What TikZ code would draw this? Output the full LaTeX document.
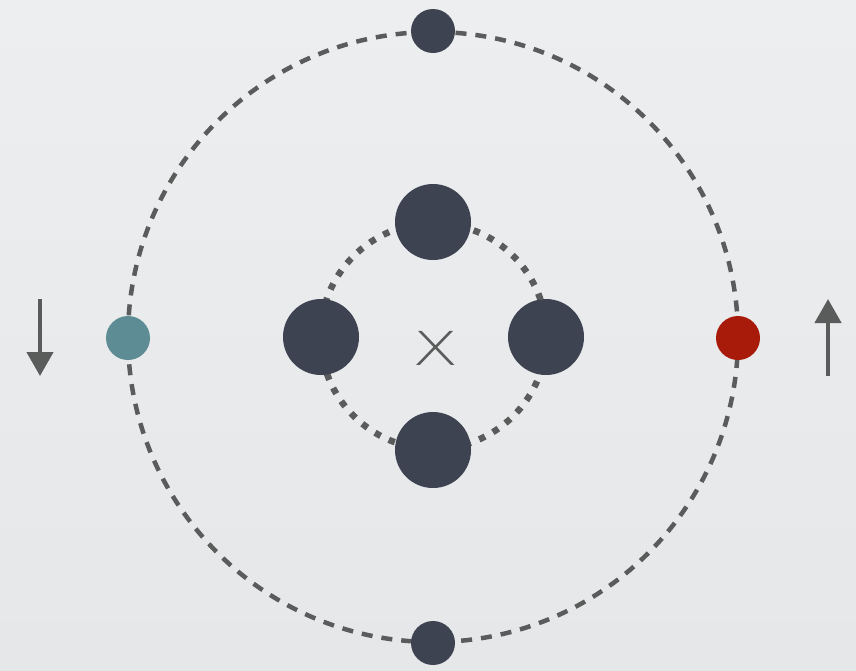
\documentclass[tikz,border=0pt]{standalone}
\usepackage{fontspec}
\newfontfamily\xfont{DejaVu Sans ExtraLight}
\usetikzlibrary{arrows.meta}
\definecolor{bgtop}{HTML}{ECEEF0}
\definecolor{bgbot}{HTML}{E5E7E9}
\definecolor{nodedark}{HTML}{3D4350}
\definecolor{linegrey}{HTML}{5A5C5C}
\definecolor{tealnode}{HTML}{5E8C94}
\definecolor{rednode}{HTML}{A81A0A}
\tikzset{
  bignode/.style={circle, fill=nodedark, minimum size=76pt, inner sep=0pt},
  smallnode/.style={circle, fill=#1, minimum size=44pt, inner sep=0pt},
  outerring/.style={draw=linegrey, line width=4.5pt, dash pattern=on 11pt off 9pt},
  innerring/.style={draw=linegrey, line width=6.5pt, dash pattern=on 6.5pt off 9pt},
  dirarrow/.style={draw=linegrey, line width=4.5pt, -{Triangle[width=26pt,length=24pt]}}
}
\begin{document}
\begin{tikzpicture}[x=1pt,y=-1pt]
\shade[top color=bgtop, bottom color=bgbot] (0,0) rectangle (856,670);
\useasboundingbox (0,0) rectangle (856,670);
% rings
\path[outerring] (433,337) circle[radius=305];
\path[innerring] (433.5,336) circle[radius=113];
% outer nodes
\node[smallnode=nodedark] (ntop) at (433,31) {};
\node[smallnode=nodedark] (nbot) at (433,643) {};
\node[smallnode=tealnode] (nleft) at (128,338) {};
\node[smallnode=rednode] (nright) at (738,338) {};
% inner nodes
\node[bignode] (itop) at (433,222) {};
\node[bignode] (ibot) at (433,450) {};
\node[bignode] (ileft) at (321,337) {};
\node[bignode] (iright) at (546,337) {};
% centre mark
\node[text=linegrey, inner sep=0pt] (cx) at (435.5,348.5) {\scalebox{1.3}[0.9]{\xfont\fontsize{52}{52}\selectfont X}};
% arrows
\coordinate (la1) at (40,299);
\coordinate (la2) at (40,376);
\coordinate (ra1) at (828,376);
\coordinate (ra2) at (828,299);
\draw[dirarrow] (la1) -- (la2);
\draw[dirarrow] (ra1) -- (ra2);
\end{tikzpicture}
\end{document}
